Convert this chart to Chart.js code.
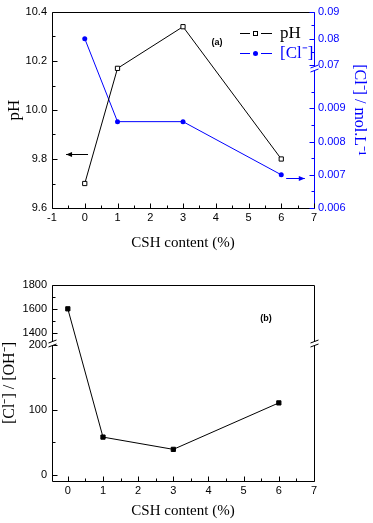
<!DOCTYPE html>
<html>
<head>
<meta charset="utf-8">
<script src="https://cdn.jsdelivr.net/npm/chart.js@4.4.0/dist/chart.umd.min.js"></script>
<style>
  html, body { margin: 0; padding: 0; background: #fff; }
  #wrap { position: relative; width: 373px; height: 523px; }
  canvas { position: absolute; left: 0; }
</style>
</head>
<body>
<div id="wrap">
  <canvas id="chartA" width="373" height="260" style="top:0"></canvas>
  <canvas id="chartB" width="373" height="263" style="top:260px"></canvas>
</div>
<script>
// data
const cshContent = [0, 1, 3, 6];
const phValues = [9.70, 10.17, 10.34, 9.80];
const clValues = [0.080, 0.0086, 0.0086, 0.0070];
const ratioValues = [1600, 58, 39, 111];

// tick values
const xTicksA = [-1, 0, 1, 2, 3, 4, 5, 6, 7];
const xMinorA = [-0.5, 0.5, 1.5, 2.5, 3.5, 4.5, 5.5, 6.5];
const xTicksB = [0, 1, 2, 3, 4, 5, 6, 7];
const xMinorB = [0.5, 1.5, 2.5, 3.5, 4.5, 5.5, 6.5];
const phTicks = [9.6, 9.8, 10.0, 10.2, 10.4];
const phMinor = [9.7, 9.9, 10.1, 10.3];
const clTicks = [0.006, 0.007, 0.008, 0.009, 0.07, 0.08, 0.09];
const clMinor = [0.0065, 0.0075, 0.0085, 0.0095, 0.075, 0.085];
const ratioTicks = [0, 100, 200, 1400, 1600, 1800];
const ratioMinor = [50, 150, 1500, 1700];

const BLUE = '#0000ff';
const SERIF = '"Liberation Serif", "Times New Roman", serif';
const SANS = '"Liberation Sans", Arial, sans-serif';
const tickFont = { family: SANS, size: 11 };

// ranges shown on each part of the broken axes (bottom part first)
const axisBreaks = {
  yCl: [{ from: 0.006, to: 0.0102, weight: 139.5 }, { from: 0.0688, to: 0.09, weight: 56.5 }],
  yRatio: [{ from: -10, to: 203, weight: 137.5 }, { from: 1309, to: 1800, weight: 58.5 }]
};

class BrokenScale extends Chart.LinearScale {
  getPixelForValue(value) {
    if (value === null || value === undefined || isNaN(value)) return NaN;
    const segs = axisBreaks[this.id];
    const total = segs.reduce((a, s) => a + s.weight, 0);
    let acc = 0;
    for (let i = 0; i < segs.length; i++) {
      const s = segs[i];
      if (value <= s.to || i === segs.length - 1) {
        return this.getPixelForDecimal((acc + (value - s.from) / (s.to - s.from) * s.weight) / total);
      }
      acc += s.weight;
    }
  }
  getValueForPixel(pixel) {
    const segs = axisBreaks[this.id];
    const total = segs.reduce((a, s) => a + s.weight, 0);
    let d = this.getDecimalForPixel(pixel) * total;
    for (let i = 0; i < segs.length; i++) {
      const s = segs[i];
      if (d <= s.weight || i === segs.length - 1) return s.from + d / s.weight * (s.to - s.from);
      d -= s.weight;
    }
  }
}
BrokenScale.id = 'broken';
BrokenScale.defaults = {};
Chart.register(BrokenScale);

const tickMarks = {
  xA: { major: xTicksA, minor: xMinorA, color: '#000' },
  yPh: { major: phTicks, minor: phMinor, color: '#000' },
  yCl: { major: clTicks, minor: clMinor, color: BLUE },
  xB: { major: xTicksB, minor: xMinorB, color: '#000' },
  yRatio: { major: ratioTicks, minor: ratioMinor, color: '#000' }
};

const setTicks = (arr) => (s) => { s.ticks = arr.map(v => ({ value: v })); };
const noGrid = { display: false, drawTicks: false };

function drawBreak(ctx, x, y, color) {
  ctx.fillStyle = '#fff';
  ctx.beginPath();
  ctx.moveTo(x - 4, y - 0.5);
  ctx.lineTo(x + 4, y - 3.5);
  ctx.lineTo(x + 4, y + 0.5);
  ctx.lineTo(x - 4, y + 3.5);
  ctx.closePath();
  ctx.fill();
  ctx.strokeStyle = color;
  ctx.beginPath();
  ctx.moveTo(x - 4, y - 0.5); ctx.lineTo(x + 4, y - 3.5);
  ctx.moveTo(x - 4, y + 3.5); ctx.lineTo(x + 4, y + 0.5);
  ctx.stroke();
}

// box, inward ticks and axis breaks
function makeFrame(edges, breaks) {
  return {
    id: 'frame',
    afterDatasetsDraw(chart) {
      const { ctx, chartArea: a } = chart;
      const L = Math.round(a.left) + 0.5, R = Math.round(a.right) + 0.5;
      const T = Math.round(a.top) + 0.5, B = Math.round(a.bottom) + 0.5;
      ctx.save();
      ctx.lineWidth = 1;
      const line = (x1, y1, x2, y2, c) => {
        ctx.strokeStyle = c; ctx.beginPath(); ctx.moveTo(x1, y1); ctx.lineTo(x2, y2); ctx.stroke();
      };
      line(L, T, R, T, edges.top);
      line(L, B, R, B, edges.bottom);
      line(L, T, L, B, edges.left);
      line(R, T, R, B, edges.right);

      Object.values(chart.scales).forEach(s => {
        const t = tickMarks[s.id];
        if (!t) return;
        const draw = (v, len) => {
          const p = Math.round(s.getPixelForValue(v)) + 0.5;
          if (s.isHorizontal()) line(p, B, p, B - len, t.color);
          else if (s.position === 'left') line(L, p, L + len, p, t.color);
          else line(R, p, R - len, p, t.color);
        };
        t.major.forEach(v => draw(v, 5));
        t.minor.forEach(v => draw(v, 3));
      });

      breaks.forEach(b => {
        const s = chart.scales[b.scale];
        const y = s.getPixelForValue(axisBreaks[b.scale][0].to);
        drawBreak(ctx, b.side === 'left' ? L : R, y, b.color);
      });
      ctx.restore();
    }
  };
}

function drawArrow(ctx, x1, y1, x2, y2, color) {
  const ang = Math.atan2(y2 - y1, x2 - x1);
  ctx.strokeStyle = color; ctx.fillStyle = color; ctx.lineWidth = 1;
  ctx.beginPath(); ctx.moveTo(x1, y1); ctx.lineTo(x2, y2); ctx.stroke();
  ctx.beginPath();
  ctx.moveTo(x2, y2);
  ctx.lineTo(x2 - 6 * Math.cos(ang) + 2.5 * Math.sin(ang), y2 - 6 * Math.sin(ang) - 2.5 * Math.cos(ang));
  ctx.lineTo(x2 - 6 * Math.cos(ang) - 2.5 * Math.sin(ang), y2 - 6 * Math.sin(ang) + 2.5 * Math.cos(ang));
  ctx.closePath(); ctx.fill();
}

// legend, panel letter and the arrows pointing to each axis
const notesA = {
  id: 'notesA',
  afterDraw(chart) {
    const { ctx, scales } = chart;
    ctx.save();
    chart.data.datasets.forEach((ds, i) => {
      const y = 33.5 + i * 20;
      ctx.strokeStyle = ds.borderColor; ctx.lineWidth = 1;
      ctx.beginPath();
      ctx.moveTo(240, y); ctx.lineTo(250, y);
      ctx.moveTo(261, y); ctx.lineTo(272, y);
      ctx.stroke();
      if (ds.pointStyle === 'rect') {
        ctx.fillStyle = '#fff';
        ctx.fillRect(253.5, y - 2, 4, 4);
        ctx.strokeRect(253.5, y - 2, 4, 4);
      } else {
        ctx.fillStyle = ds.borderColor;
        ctx.beginPath(); ctx.arc(255.5, y, 2.5, 0, Math.PI * 2); ctx.fill();
      }
      ctx.fillStyle = ds.borderColor;
      ctx.font = '17px ' + SERIF;
      ctx.textBaseline = 'middle';
      ctx.textAlign = 'left';
      ctx.fillText(ds.label, 280, y);
    });
    ctx.fillStyle = '#000';
    ctx.font = 'bold 9px ' + SANS;
    ctx.textAlign = 'center';
    ctx.fillText('(a)', 217, 43);

    const x = scales.xA, yp = scales.yPh, yc = scales.yCl;
    drawArrow(ctx, x.getPixelForValue(0.1), Math.round(yp.getPixelForValue(9.82)) + 0.5,
      x.getPixelForValue(-0.57), Math.round(yp.getPixelForValue(9.82)) + 0.5, '#000');
    drawArrow(ctx, x.getPixelForValue(6.15), Math.round(yc.getPixelForValue(0.0069)) + 0.5,
      x.getPixelForValue(6.72), Math.round(yc.getPixelForValue(0.0069)) + 0.5, BLUE);
    ctx.restore();
  }
};

const notesB = {
  id: 'notesB',
  afterDraw(chart) {
    const { ctx } = chart;
    ctx.save();
    ctx.fillStyle = '#000';
    ctx.font = 'bold 9px ' + SANS;
    ctx.textAlign = 'center';
    ctx.textBaseline = 'middle';
    ctx.fillText('(b)', 266, 59);
    ctx.restore();
  }
};

const chartA = new Chart(document.getElementById('chartA'), {
  type: 'line',
  data: {
    datasets: [{
      label: 'pH',
      data: cshContent.map((x, i) => ({ x, y: phValues[i] })),
      xAxisID: 'xA', yAxisID: 'yPh',
      borderColor: '#000', borderWidth: 1,
      pointStyle: 'rect', pointRadius: 3,
      pointBackgroundColor: '#fff', pointBorderColor: '#000', pointBorderWidth: 1
    }, {
      label: '[Cl\u207B]',
      data: cshContent.map((x, i) => ({ x, y: clValues[i] })),
      xAxisID: 'xA', yAxisID: 'yCl',
      borderColor: BLUE, borderWidth: 1,
      pointStyle: 'circle', pointRadius: 2.5,
      pointBackgroundColor: BLUE, pointBorderColor: BLUE, pointBorderWidth: 0
    }]
  },
  options: {
    responsive: false,
    animation: false,
    layout: { padding: { top: 12, left: 0, right: 0, bottom: 0 } },
    plugins: { legend: { display: false }, tooltip: { enabled: false } },
    scales: {
      xA: {
        type: 'linear', position: 'bottom', min: -1, max: 7,
        afterBuildTicks: setTicks(xTicksA),
        afterFit: s => { s.height = 52; },
        grid: noGrid, border: { display: false },
        ticks: { autoSkip: false, maxRotation: 0, padding: 3, color: '#000', font: tickFont, callback: v => String(v) },
        title: { display: true, text: 'CSH content (%)', color: '#000', font: { family: SERIF, size: 15 }, padding: { top: 0, bottom: 8 } }
      },
      yPh: {
        type: 'linear', position: 'left', min: 9.6, max: 10.4,
        afterBuildTicks: setTicks(phTicks),
        afterFit: s => { s.width = 52; },
        grid: noGrid, border: { display: false },
        ticks: { autoSkip: false, padding: 5, color: '#000', font: tickFont, callback: v => v.toFixed(1) },
        title: { display: true, text: 'pH', color: '#000', font: { family: SERIF, size: 17 }, padding: { top: 4, bottom: 0 } }
      },
      yCl: {
        type: 'broken', position: 'right', min: 0.006, max: 0.09,
        afterBuildTicks: setTicks(clTicks),
        afterFit: s => { s.width = 59; },
        grid: noGrid, border: { display: false },
        ticks: { autoSkip: false, padding: 4, color: BLUE, font: tickFont, callback: v => String(v) },
        title: { display: true, text: '[Cl\u207B] / mol.L\u207B\u00B9', color: BLUE, font: { family: SERIF, size: 16 }, padding: { top: 4, bottom: 0 } }
      }
    }
  },
  plugins: [makeFrame({ top: '#000', bottom: '#000', left: '#000', right: BLUE },
    [{ scale: 'yCl', side: 'right', color: BLUE }]), notesA]
});

const chartB = new Chart(document.getElementById('chartB'), {
  type: 'line',
  data: {
    datasets: [{
      label: '[Cl\u207B] / [OH\u207B]',
      data: cshContent.map((x, i) => ({ x, y: ratioValues[i] })),
      xAxisID: 'xB', yAxisID: 'yRatio',
      borderColor: '#000', borderWidth: 1,
      pointStyle: 'rect', pointRadius: 3,
      pointBackgroundColor: '#000', pointBorderColor: '#000', pointBorderWidth: 1
    }]
  },
  options: {
    responsive: false,
    animation: false,
    layout: { padding: { top: 25, left: 0, right: 59, bottom: 0 } },
    plugins: { legend: { display: false }, tooltip: { enabled: false } },
    scales: {
      xB: {
        type: 'linear', position: 'bottom', min: -0.45, max: 7,
        afterBuildTicks: setTicks(xTicksB),
        afterFit: s => { s.height = 42; },
        grid: noGrid, border: { display: false },
        ticks: { autoSkip: false, maxRotation: 0, padding: 3, color: '#000', font: tickFont, callback: v => String(v) },
        title: { display: true, text: 'CSH content (%)', color: '#000', font: { family: SERIF, size: 15 }, padding: { top: 0, bottom: 3 } }
      },
      yRatio: {
        type: 'broken', position: 'left', min: -10, max: 1800,
        afterBuildTicks: setTicks(ratioTicks),
        afterFit: s => { s.width = 52; },
        grid: noGrid, border: { display: false },
        ticks: { autoSkip: false, padding: 5, color: '#000', font: tickFont, callback: v => String(v) },
        title: { display: true, text: '[Cl\u207B] / [OH\u207B]', color: '#000', font: { family: SERIF, size: 16 }, padding: { top: 0, bottom: 0 } }
      }
    }
  },
  plugins: [makeFrame({ top: '#000', bottom: '#000', left: '#000', right: '#000' },
    [{ scale: 'yRatio', side: 'left', color: '#000' }, { scale: 'yRatio', side: 'right', color: '#000' }]), notesB]
});
</script>
</body>
</html>
